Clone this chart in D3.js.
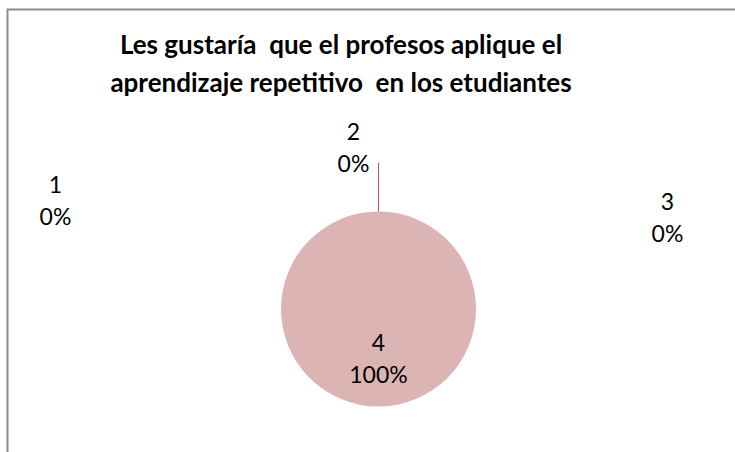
<!DOCTYPE html>
<html>
<head>
<meta charset="utf-8">
<title>Aprendizaje repetitivo</title>
<script src="https://d3js.org/d3.v7.min.js"></script>
<style>
  body { margin: 0; background: #fff; }
  svg text { font-family: Lato, "Open Sans", sans-serif; fill: #000; white-space: pre; }
</style>
</head>
<body>
<svg width="735" height="452"></svg>
<script>
// datos
var categorias = ["1", "2", "3", "4"];
var valores = [0, 0, 0, 100];
var titulo = ["Les gustaría  que el profesos aplique el",
              "aprendizaje repetitivo  en los etudiantes"];

var svg = d3.select("svg");

// marco
svg.append("rect")
  .attr("x", 7.5).attr("y", 9.5)
  .attr("width", 760).attr("height", 480)
  .attr("fill", "none").attr("stroke", "#8c8c8c").attr("stroke-width", 2);

// titulo
svg.append("text")
  .attr("x", 341).attr("y", 54)
  .attr("text-anchor", "middle")
  .attr("font-size", 26).attr("font-weight", "bold")
  .selectAll("tspan").data(titulo).join("tspan")
  .attr("x", 341).attr("dy", (d, i) => i ? 38 : 0)
  .text(d => d);

var cx = 378.5, cy = 309, radio = 97.5;
var total = d3.sum(valores);

var pie = d3.pie().sort(null).value(d => d.v);
var arcos = pie(categorias.map((c, i) => ({c: c, v: valores[i]})));
var arco = d3.arc().innerRadius(0).outerRadius(radio);

var g = svg.append("g").attr("transform", "translate(" + cx + "," + cy + ")");

g.selectAll("path").data(arcos.filter(d => d.value > 0)).join("path")
  .attr("d", arco)
  .attr("fill", "#ddb4b4");

// posiciones de etiquetas (desplazamientos relativos al centro)
var posEtiqueta = {
  "1": [-323, -116],
  "2": [-25, -169],
  "3": [289, -99],
  "4": [0, 42]
};

// linea guia de la etiqueta 2
var a2 = arcos[1];
var bordeY = -radio * Math.cos(a2.startAngle);
var bordeX = radio * Math.sin(a2.startAngle);
g.append("line")
  .attr("x1", bordeX).attr("y1", bordeY)
  .attr("x2", bordeX).attr("y2", -146)
  .attr("stroke", "#c0504d").attr("stroke-width", 1);

var etiquetas = g.selectAll("g.etq").data(arcos).join("g")
  .attr("class", "etq")
  .attr("transform", d => "translate(" + posEtiqueta[d.data.c][0] + "," + posEtiqueta[d.data.c][1] + ")");

etiquetas.append("text")
  .attr("text-anchor", "middle").attr("font-size", 23)
  .attr("y", 0)
  .text(d => d.data.c);

etiquetas.append("text")
  .attr("text-anchor", "middle").attr("font-size", 23)
  .attr("y", 32)
  .text(d => Math.round(d.value / total * 100) + "%");
</script>
</body>
</html>
